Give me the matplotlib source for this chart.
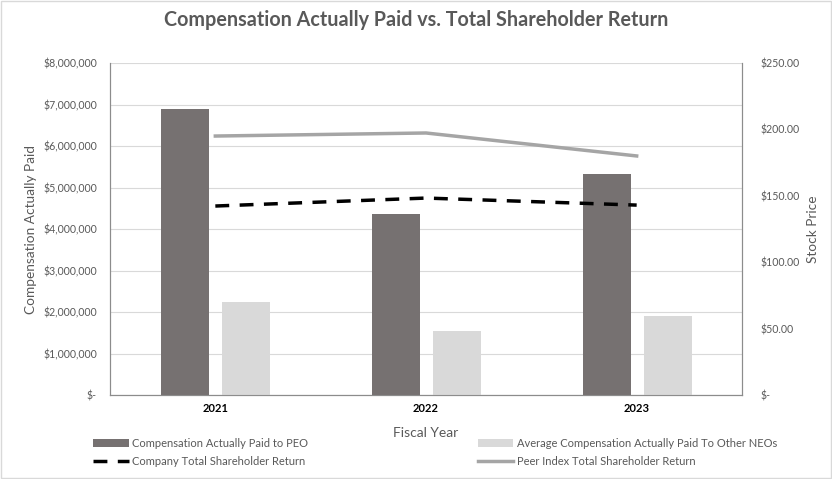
import numpy as np
import matplotlib.pyplot as plt
from matplotlib.ticker import FuncFormatter
from matplotlib.patches import Rectangle

years = ["2021", "2022", "2023"]
cap_peo = [6890000, 4360000, 5330000]
cap_neo = [2240000, 1540000, 1900000]
company_tsr = [142.3, 148.3, 143.0]
peer_tsr = [195.0, 197.3, 180.0]

plt.rcParams['font.family'] = ['Lato', 'DejaVu Sans']
txt = "#595959"

fig = plt.figure(figsize=(8.32, 4.79), dpi=100)
ax = fig.add_axes([110 / 832, 1 - 395 / 479, 632 / 832, 332 / 479])
ax2 = ax.twinx()

x = np.arange(len(years))
w = 0.228
ax.bar(x - 0.143, cap_peo, w, color="#767171", label="Compensation Actually Paid to PEO", zorder=3)
ax.bar(x + 0.147, cap_neo, w, color="#D9D9D9", label="Average Compensation Actually Paid To Other NEOs", zorder=3)

ax2.plot(x, company_tsr, color="black", lw=2.5, dashes=(4, 3), label="Company Total Shareholder Return")
ax2.plot(x, peer_tsr, color="#A5A5A5", lw=2.5, label="Peer Index Total Shareholder Return")

ax.set_xlim(-0.5, 2.5)
ax.set_ylim(0, 8000000)
ax.set_yticks(np.arange(0, 8000001, 1000000))
ax2.set_ylim(0, 250)
ax2.set_yticks(np.arange(0, 251, 50))

def money(v, pos):
    return "$-" if v == 0 else "${:,.0f}".format(v)

def price(v, pos):
    return "$-" if v == 0 else "${:,.2f}".format(v)

ax.yaxis.set_major_formatter(FuncFormatter(money))
ax2.yaxis.set_major_formatter(FuncFormatter(price))
ax.set_xticks(x)
ax.set_xticklabels(years, fontweight="bold", color="black", fontsize=8)

ax.grid(axis="y", color="#D9D9D9", lw=0.8, zorder=0)
ax.set_axisbelow(True)
for a in (ax, ax2):
    a.tick_params(length=0, labelsize=7.6, labelcolor=txt)
    a.spines["top"].set_visible(False)
    for s in ("left", "right", "bottom"):
        a.spines[s].set_color("#8C8C8C")
ax.tick_params(axis="x", labelcolor="black", labelsize=8, pad=6)
ax.tick_params(axis="y", pad=9.5)
ax2.tick_params(axis="y", pad=13.5)

ax.set_ylabel("Compensation Actually Paid", color=txt, fontsize=9.8)
ax.yaxis.set_label_coords(-0.115, 0.5)
ax2.set_ylabel("Stock Price", color=txt, fontsize=9.8)
ax2.yaxis.set_label_coords(1.103, 0.5)
ax.set_xlabel("Fiscal Year", color=txt, fontsize=10, labelpad=9)

fig.text(0.5, 1 - 20 / 479, "Compensation Actually Paid vs. Total Shareholder Return",
         ha="center", va="center", fontsize=14.2, fontweight="bold", color=txt)

h1, l1 = ax.get_legend_handles_labels()
h2, l2 = ax2.get_legend_handles_labels()
handles = [h1[0], h2[0], h1[1], h2[1]]
labels = [l1[0], l2[0], l1[1], l2[1]]
fig.legend(handles, labels, ncol=2, loc="upper left", bbox_to_anchor=(83 / 832, 1 - 428 / 479),
           frameon=False, fontsize=8, labelcolor=txt, columnspacing=15.3, handlelength=3.2,
           handletextpad=0.3, labelspacing=0.6)

fig.patches.append(Rectangle((0.001, 0.003), 0.998, 0.995, transform=fig.transFigure,
                             fill=False, edgecolor="#D9D9D9", lw=1))

fig.savefig("out.png", dpi=100)
